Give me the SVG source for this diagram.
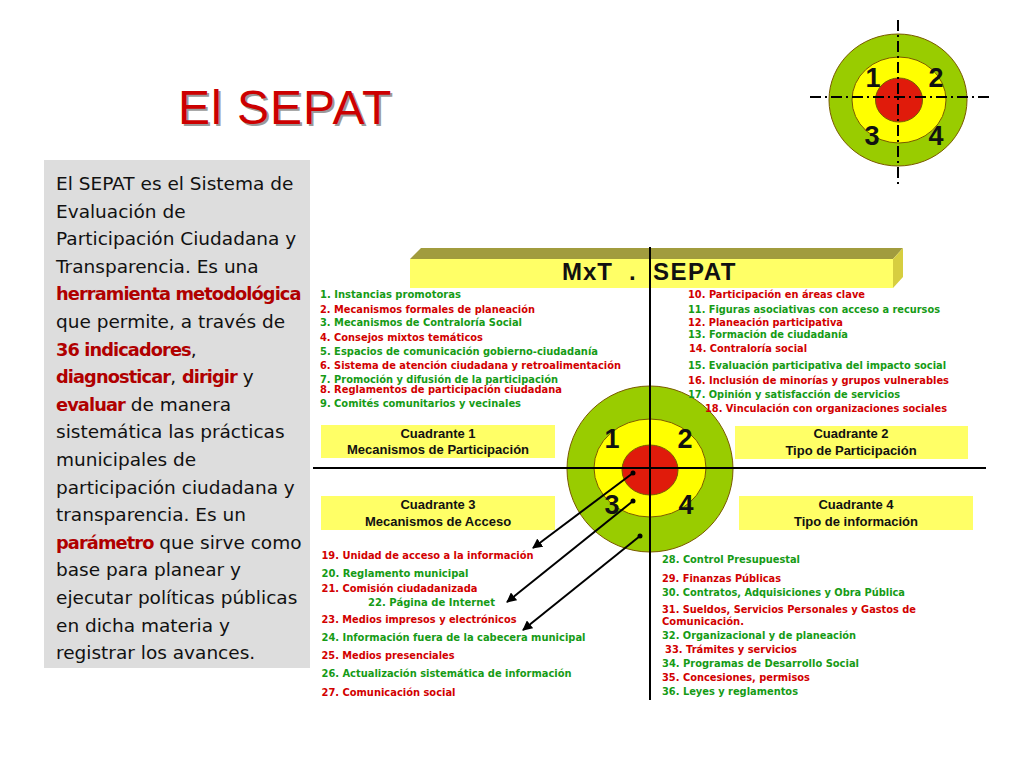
<svg xmlns="http://www.w3.org/2000/svg" width="1024" height="768" viewBox="0 0 1024 768">
<style>
.body{font-family:"DejaVu Sans","Liberation Sans",sans-serif;font-size:18.5px;fill:#111}
.em{font-family:"DejaVu Sans","Liberation Sans",sans-serif;font-size:17.8px;font-weight:bold;fill:#B00000;letter-spacing:-0.9px}
.li{font-family:"DejaVu Sans","Liberation Sans",sans-serif;font-size:10px;font-weight:bold}
.g{fill:#169B16}
.r{fill:#D20000}
.qt{font-family:"Liberation Sans",Arial,sans-serif;font-size:13px;font-weight:bold;fill:#111;text-anchor:middle}
.num{font-family:"Liberation Sans",Arial,sans-serif;font-size:27px;font-weight:bold;fill:#111;text-anchor:middle}
.qbox{fill:#FFFF66}
.ring{stroke:#7A5A00;stroke-width:1}
.axis{stroke:#000;stroke-width:2;fill:none}
.dd{stroke:#000;stroke-width:2;stroke-dasharray:11 4 2 4;fill:none}
.arrow{stroke:#000;stroke-width:2;fill:none;marker-end:url(#ah)}
</style>
<defs>
<marker id="ah" viewBox="0 0 10 10" refX="9" refY="5" markerWidth="5" markerHeight="5" orient="auto" markerUnits="strokeWidth">
<path d="M0,0 L10,5 L0,10 Z" fill="#000"/>
</marker>
</defs>
<rect width="1024" height="768" fill="#fff"/>

<g id="title">
<text x="180" y="126" font-family="Liberation Sans,Arial,sans-serif" font-size="48" letter-spacing="1" fill="#9a9a9a">El SEPAT</text>
<text x="178" y="124" font-family="Liberation Sans,Arial,sans-serif" font-size="48" letter-spacing="1" fill="#CC0000">El SEPAT</text>
</g>

<g id="mini-target">
<ellipse class="ring" cx="898" cy="100" rx="69" ry="66" fill="#99CC00"/>
<ellipse class="ring" cx="899" cy="100" rx="47" ry="43" fill="#FFFF00"/>
<ellipse class="ring" cx="899" cy="100" rx="23.5" ry="22" fill="#E01B0B"/>
<line class="dd" x1="898" y1="20" x2="898" y2="186"/>
<line class="dd" x1="810" y1="97" x2="990" y2="97"/>
<text class="num" x="873" y="87">1</text>
<text class="num" x="936" y="87">2</text>
<text class="num" x="872" y="145">3</text>
<text class="num" x="936" y="145">4</text>
</g>

<g id="description">
<rect x="44" y="160" width="266" height="508" fill="#DDDDDD"/>
<text class="body" x="56" y="190">El SEPAT es el Sistema de</text>
<text class="body" x="56" y="217.6">Evaluación de</text>
<text class="body" x="56" y="245.2">Participación Ciudadana y</text>
<text class="body" x="56" y="272.8">Transparencia. Es una</text>
<text class="em" x="56" y="300.4">herramienta metodológica</text>
<text class="body" x="56" y="328">que permite, a través de</text>
<text class="body" x="56" y="355.6"><tspan class="em">36 indicadores</tspan>,</text>
<text class="body" x="56" y="383.2"><tspan class="em">diagnosticar</tspan>, <tspan class="em">dirigir</tspan> y</text>
<text class="body" x="56" y="410.8"><tspan class="em">evaluar</tspan> de manera</text>
<text class="body" x="56" y="438.4">sistemática las prácticas</text>
<text class="body" x="56" y="466">municipales de</text>
<text class="body" x="56" y="493.6">participación ciudadana y</text>
<text class="body" x="56" y="521.2">transparencia. Es un</text>
<text class="body" x="56" y="548.8"><tspan class="em">parámetro</tspan> que sirve como</text>
<text class="body" x="56" y="576.4">base para planear y</text>
<text class="body" x="56" y="604">ejecutar políticas públicas</text>
<text class="body" x="56" y="631.6">en dicha materia y</text>
<text class="body" x="56" y="659.2">registrar los avances.</text>
</g>

<g id="header-bar">
<polygon points="410,259 893,259 903,248 421,248" fill="#A19C3E"/>
<polygon points="893,259 903,248 903,277 893,288" fill="#D6CE40"/>
<rect x="410" y="259" width="483" height="29" fill="#FFFF66"/>
<text x="562" y="280" font-family="Liberation Sans,Arial,sans-serif" font-size="24" font-weight="bold" fill="#111" letter-spacing="1">MxT</text>
<text x="629" y="280" font-family="Liberation Sans,Arial,sans-serif" font-size="24" font-weight="bold" fill="#111">.</text>
<text x="653" y="280" font-family="Liberation Sans,Arial,sans-serif" font-size="24" font-weight="bold" fill="#111" letter-spacing="1.5">SEPAT</text>
</g>

<g id="big-target">
<circle class="ring" cx="650" cy="469" r="83" fill="#99CC00"/>
<ellipse class="ring" cx="650" cy="468" rx="56" ry="49" fill="#FFFF00"/>
<ellipse class="ring" cx="650" cy="470" rx="28" ry="25" fill="#E01B0B"/>
<text class="num" x="612" y="448">1</text>
<text class="num" x="685" y="448">2</text>
<text class="num" x="612" y="514">3</text>
<text class="num" x="686" y="514">4</text>
</g>

<g id="axes">
<line class="axis" x1="650" y1="247" x2="650" y2="700"/>
<line class="axis" x1="313" y1="468" x2="986" y2="468"/>
</g>

<g id="quadrant-1">
<rect class="qbox" x="321" y="425" width="234" height="33"/>
<text class="qt" x="438" y="438">Cuadrante 1</text>
<text class="qt" x="438" y="454">Mecanismos de Participación</text>
</g>
<g id="quadrant-2">
<rect class="qbox" x="735" y="426" width="233" height="33"/>
<text class="qt" x="851" y="438">Cuadrante 2</text>
<text class="qt" x="851" y="455">Tipo de Participación</text>
</g>
<g id="quadrant-3">
<rect class="qbox" x="321" y="496" width="234" height="34"/>
<text class="qt" x="438" y="509">Cuadrante 3</text>
<text class="qt" x="438" y="526">Mecanismos de Acceso</text>
</g>
<g id="quadrant-4">
<rect class="qbox" x="739" y="496" width="234" height="34"/>
<text class="qt" x="856" y="509">Cuadrante 4</text>
<text class="qt" x="856" y="526">Tipo de información</text>
</g>

<g id="list-q1">
<text class="li g" x="320" y="298" textLength="141" lengthAdjust="spacingAndGlyphs">1. Instancias promotoras</text>
<text class="li r" x="320" y="312.5" textLength="215" lengthAdjust="spacingAndGlyphs">2. Mecanismos formales de planeación</text>
<text class="li g" x="320" y="326" textLength="202" lengthAdjust="spacingAndGlyphs">3. Mecanismos de Contraloría Social</text>
<text class="li r" x="320" y="341" textLength="163" lengthAdjust="spacingAndGlyphs">4. Consejos mixtos temáticos</text>
<text class="li g" x="320" y="354.5" textLength="278" lengthAdjust="spacingAndGlyphs">5. Espacios de comunicación gobierno-ciudadanía</text>
<text class="li r" x="320" y="368.5" textLength="301" lengthAdjust="spacingAndGlyphs">6. Sistema de atención ciudadana y retroalimentación</text>
<text class="li g" x="320" y="382.5" textLength="238" lengthAdjust="spacingAndGlyphs">7. Promoción y difusión de la participación</text>
<text class="li r" x="320" y="392.5" textLength="242" lengthAdjust="spacingAndGlyphs">8. Reglamentos de participación ciudadana</text>
<text class="li g" x="320" y="407" textLength="201" lengthAdjust="spacingAndGlyphs">9. Comités comunitarios y vecinales</text>
</g>

<g id="list-q2">
<text class="li r" x="688" y="298" textLength="177" lengthAdjust="spacingAndGlyphs">10. Participación en áreas clave</text>
<text class="li g" x="688" y="312.5" textLength="252" lengthAdjust="spacingAndGlyphs">11. Figuras asociativas con acceso a recursos</text>
<text class="li r" x="688" y="326" textLength="155" lengthAdjust="spacingAndGlyphs">12. Planeación participativa</text>
<text class="li g" x="688" y="338" textLength="160" lengthAdjust="spacingAndGlyphs">13. Formación de ciudadanía</text>
<text class="li r" x="689" y="352" textLength="118" lengthAdjust="spacingAndGlyphs">14. Contraloría social</text>
<text class="li g" x="688" y="368.5" textLength="258" lengthAdjust="spacingAndGlyphs">15. Evaluación participativa del impacto social</text>
<text class="li r" x="688" y="383.5" textLength="261" lengthAdjust="spacingAndGlyphs">16. Inclusión de minorías y grupos vulnerables</text>
<text class="li g" x="688" y="397.5" textLength="212" lengthAdjust="spacingAndGlyphs">17. Opinión y satisfacción de servicios</text>
<text class="li r" x="705" y="412" textLength="242" lengthAdjust="spacingAndGlyphs">18. Vinculación con organizaciones sociales</text>
</g>

<g id="list-q3">
<text class="li r" x="321.5" y="558.5" textLength="212" lengthAdjust="spacingAndGlyphs">19. Unidad de acceso a la información</text>
<text class="li g" x="321.5" y="577" textLength="147" lengthAdjust="spacingAndGlyphs">20. Reglamento municipal</text>
<text class="li r" x="321.5" y="592" textLength="156" lengthAdjust="spacingAndGlyphs">21. Comisión ciudadanizada</text>
<text class="li g" x="368" y="606" textLength="127" lengthAdjust="spacingAndGlyphs">22. Página de Internet</text>
<text class="li r" x="321.5" y="623" textLength="195" lengthAdjust="spacingAndGlyphs">23. Medios impresos y electrónicos</text>
<text class="li g" x="321.5" y="641" textLength="264" lengthAdjust="spacingAndGlyphs">24. Información fuera de la cabecera municipal</text>
<text class="li r" x="321.5" y="658.5" textLength="133" lengthAdjust="spacingAndGlyphs">25. Medios presenciales</text>
<text class="li g" x="321.5" y="677" textLength="250" lengthAdjust="spacingAndGlyphs">26. Actualización sistemática de información</text>
<text class="li r" x="321.5" y="696" textLength="134" lengthAdjust="spacingAndGlyphs">27. Comunicación social</text>
</g>

<g id="list-q4">
<text class="li g" x="662" y="563" textLength="138" lengthAdjust="spacingAndGlyphs">28. Control Presupuestal</text>
<text class="li r" x="662" y="582" textLength="119" lengthAdjust="spacingAndGlyphs">29. Finanzas Públicas</text>
<text class="li g" x="662" y="596" textLength="243" lengthAdjust="spacingAndGlyphs">30. Contratos, Adquisiciones y Obra Pública</text>
<text class="li r" x="662" y="612.5" textLength="254" lengthAdjust="spacingAndGlyphs">31. Sueldos, Servicios Personales y Gastos de</text>
<text class="li r" x="662" y="624.5" textLength="82" lengthAdjust="spacingAndGlyphs">Comunicación.</text>
<text class="li g" x="662" y="638.5" textLength="194" lengthAdjust="spacingAndGlyphs">32. Organizacional y de planeación</text>
<text class="li r" x="665" y="653" textLength="132" lengthAdjust="spacingAndGlyphs">33. Trámites y servicios</text>
<text class="li g" x="662" y="667" textLength="197" lengthAdjust="spacingAndGlyphs">34. Programas de Desarrollo Social</text>
<text class="li r" x="662" y="681" textLength="148" lengthAdjust="spacingAndGlyphs">35. Concesiones, permisos</text>
<text class="li g" x="662" y="695" textLength="136" lengthAdjust="spacingAndGlyphs">36. Leyes y reglamentos</text>
</g>

<g id="connectors">
<circle cx="633" cy="473" r="2.5" fill="#000"/>
<line class="arrow" x1="633" y1="473" x2="533" y2="548"/>
<circle cx="633" cy="501" r="2.5" fill="#000"/>
<line class="arrow" x1="633" y1="501" x2="507" y2="602"/>
<circle cx="640" cy="536" r="2.5" fill="#000"/>
<line class="arrow" x1="640" y1="536" x2="523" y2="630"/>
</g>
</svg>
